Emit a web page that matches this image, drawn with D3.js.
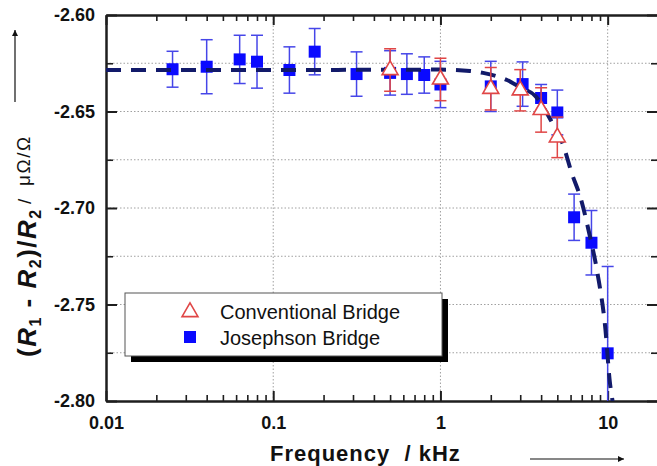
<!DOCTYPE html>
<html>
<head>
<meta charset="utf-8">
<script src="https://cdn.jsdelivr.net/npm/d3@7"></script>
<style>
  html, body { margin: 0; padding: 0; background: #fff; }
  svg { display: block; font-family: "Liberation Sans", Arial, sans-serif; }
</style>
</head>
<body>
<svg id="chart" width="657" height="466"></svg>
<script>
// Josephson bridge measurements (frequency in kHz, relative difference in µΩ/Ω)
const jFreq  = [0.025, 0.04, 0.063, 0.08, 0.125, 0.177, 0.315, 0.5, 0.63, 0.8, 1.0, 2.0, 3.1, 4.0, 5.0, 6.3, 8.0, 10.0];
const jValue = [-2.6281, -2.6268, -2.6230, -2.6242, -2.6285, -2.6190, -2.6306, -2.6300, -2.6306, -2.6311, -2.6360, -2.6370, -2.6358, -2.6430, -2.6505, -2.7048, -2.7180, -2.7753];
const jError = [0.0093, 0.0140, 0.0125, 0.0137, 0.0120, 0.0120, 0.0115, 0.0115, 0.0105, 0.0094, 0.0120, 0.0130, 0.0115, 0.0070, 0.0116, 0.0120, 0.0167, 0.0450];

// Conventional bridge measurements
const cFreq  = [0.5, 1.0, 2.0, 3.0, 4.0, 5.0];
const cValue = [-2.6285, -2.6334, -2.6382, -2.6390, -2.6492, -2.6634];
const cError = [0.0110, 0.0110, 0.0110, 0.0107, 0.0115, 0.0105];

// Model curve (dashed)
const fitFreq  = [0.01, 0.1, 1.0, 1.5, 1.8, 2.5, 3.0, 3.7, 4.6, 5.4, 6.1, 6.9, 7.8, 8.7, 9.7, 10.3, 10.7];
const fitValue = [-2.6285, -2.6285, -2.6283, -2.6290, -2.6300, -2.6337, -2.6375, -2.6420, -2.6550, -2.6670, -2.6820, -2.6950, -2.7140, -2.7340, -2.7630, -2.7900, -2.8000];

// Axis ticks and labels
const xMajorTicks  = [0.01, 0.1, 1, 10];
const xTickLabels  = ["0.01", "0.1", "1", "10"];
const xMinorTicks  = [2,3,4,5,6,7,8,9].flatMap(k => [0.01*k, 0.1*k, 1*k]).concat([20]);
const yMajorTicks  = [-2.60, -2.65, -2.70, -2.75, -2.80];
const yTickLabels  = ["-2.60", "-2.65", "-2.70", "-2.75", "-2.80"];
const yMinorTicks  = [-2.625, -2.675, -2.725, -2.775];
const yGridValues  = [-2.625, -2.65, -2.675, -2.70, -2.725, -2.75, -2.775];
const xGridValues  = [0.1, 1, 10];
const seriesNames  = ["Conventional Bridge", "Josephson Bridge"];

const svg = d3.select("#chart");
const plot = { left: 106, right: 658, top: 15, bottom: 401 };

const x = d3.scaleLog().domain([0.01, 20]).range([plot.left, plot.right]);
const y = d3.scaleLinear().domain([-2.80, -2.60]).range([plot.bottom, plot.top]);

const AXIS = "#1e1e1e";
const BLUE = "#0a0aff";
const BLUE_BAR = "#4646e8";
const RED = "#e04646";
const NAVY = "#121a6a";

const defs = svg.append("defs");
defs.append("clipPath").attr("id", "plotClip")
  .append("rect")
  .attr("x", plot.left).attr("y", plot.top)
  .attr("width", plot.right - plot.left).attr("height", plot.bottom - plot.top);

// Dotted grid
const grid = svg.append("g").attr("stroke", "#a0a0a0").attr("stroke-width", 1)
  .attr("stroke-dasharray", "1.5,2");
grid.selectAll(".gy").data(yGridValues).join("line")
  .attr("x1", plot.left).attr("x2", plot.right)
  .attr("y1", d => y(d)).attr("y2", d => y(d));
grid.selectAll(".gx").data(xGridValues).join("line")
  .attr("y1", plot.top).attr("y2", plot.bottom)
  .attr("x1", d => x(d)).attr("x2", d => x(d));

// Axes with inward ticks
function styleAxis(g, width) {
  g.select(".domain").attr("stroke", AXIS).attr("stroke-width", 2);
  g.selectAll(".tick line").attr("stroke", AXIS).attr("stroke-width", width);
}
const fmtX = d => xTickLabels[xMajorTicks.indexOf(d)];
const fmtY = d => yTickLabels[yMajorTicks.findIndex(v => Math.abs(v - d) < 1e-9)];

// bottom
svg.append("g").attr("transform", `translate(0,${plot.bottom})`)
  .call(d3.axisBottom(x).tickValues(xMinorTicks).tickSize(-6).tickSizeOuter(0).tickFormat(""))
  .call(g => styleAxis(g, 1.6));
const xAxisG = svg.append("g").attr("transform", `translate(0,${plot.bottom})`)
  .call(d3.axisBottom(x).tickValues(xMajorTicks).tickSize(-10).tickSizeOuter(0).tickPadding(15).tickFormat(fmtX))
  .call(g => styleAxis(g, 2));
xAxisG.selectAll("text").attr("font-size", 18).attr("font-weight", "bold").attr("fill", "#111");

// top
svg.append("g").attr("transform", `translate(0,${plot.top})`)
  .call(d3.axisTop(x).tickValues(xMinorTicks).tickSize(-6).tickSizeOuter(0).tickFormat(""))
  .call(g => styleAxis(g, 1.6));
svg.append("g").attr("transform", `translate(0,${plot.top})`)
  .call(d3.axisTop(x).tickValues(xMajorTicks).tickSize(-10).tickSizeOuter(0).tickFormat(""))
  .call(g => styleAxis(g, 2));

// left
svg.append("g").attr("transform", `translate(${plot.left},0)`)
  .call(d3.axisLeft(y).tickValues(yMinorTicks).tickSize(-7).tickSizeOuter(0).tickFormat(""))
  .call(g => styleAxis(g, 1.6));
const yAxisG = svg.append("g").attr("transform", `translate(${plot.left},0)`)
  .call(d3.axisLeft(y).tickValues(yMajorTicks).tickSize(-11).tickSizeOuter(0).tickPadding(11).tickFormat(fmtY))
  .call(g => styleAxis(g, 2));
yAxisG.selectAll("text").attr("font-size", 18).attr("font-weight", "bold").attr("fill", "#111");

// right
svg.append("g").attr("transform", `translate(${plot.right},0)`)
  .call(d3.axisRight(y).tickValues(yMinorTicks).tickSize(-7).tickSizeOuter(0).tickFormat(""))
  .call(g => styleAxis(g, 1.6));
svg.append("g").attr("transform", `translate(${plot.right},0)`)
  .call(d3.axisRight(y).tickValues(yMajorTicks).tickSize(-11).tickSizeOuter(0).tickFormat(""))
  .call(g => styleAxis(g, 2));

const marks = svg.append("g").attr("clip-path", "url(#plotClip)");

// Error bars helper
function errorBars(g, fx, fv, fe, color, cap) {
  const data = fx.map((f, i) => ({ f, v: fv[i], e: fe[i] }));
  const eb = g.append("g").attr("stroke", color).attr("stroke-width", 1.5).attr("fill", "none");
  eb.selectAll(".v").data(data).join("line")
    .attr("x1", d => x(d.f)).attr("x2", d => x(d.f))
    .attr("y1", d => y(d.v - d.e)).attr("y2", d => y(d.v + d.e));
  eb.selectAll(".t").data(data).join("line")
    .attr("x1", d => x(d.f) - cap).attr("x2", d => x(d.f) + cap)
    .attr("y1", d => y(d.v + d.e)).attr("y2", d => y(d.v + d.e));
  eb.selectAll(".b").data(data).join("line")
    .attr("x1", d => x(d.f) - cap).attr("x2", d => x(d.f) + cap)
    .attr("y1", d => y(d.v - d.e)).attr("y2", d => y(d.v - d.e));
  return data;
}

// Josephson bridge
const jData = errorBars(marks, jFreq, jValue, jError, BLUE_BAR, 6);
marks.append("g").selectAll("path").data(jData).join("path")
  .attr("transform", d => `translate(${x(d.f)},${y(d.v)})`)
  .attr("d", d3.symbol(d3.symbolSquare, 144))
  .attr("fill", BLUE);

// Model curve
const fitData = fitFreq.map((f, i) => ({ f, v: fitValue[i] }));
marks.append("path").datum(fitData)
  .attr("d", d3.line().x(d => x(d.f)).y(d => y(d.v)).curve(d3.curveMonotoneX))
  .attr("fill", "none").attr("stroke", NAVY).attr("stroke-width", 4)
  .attr("stroke-dasharray", "15,10");

// Conventional bridge
const cData = errorBars(marks, cFreq, cValue, cError, RED, 6);
marks.append("g").selectAll("path").data(cData).join("path")
  .attr("transform", d => `translate(${x(d.f)},${y(d.v)})`)
  .attr("d", d3.symbol(d3.symbolTriangle, 110))
  .attr("fill", "#fff").attr("stroke", RED).attr("stroke-width", 1.6);

// Legend with drop shadow
const lg = svg.append("g");
lg.append("rect").attr("x", 131).attr("y", 299).attr("width", 317).attr("height", 63).attr("fill", "#000");
lg.append("rect").attr("x", 125).attr("y", 293).attr("width", 317).attr("height", 63)
  .attr("fill", "#fff").attr("stroke", "#555").attr("stroke-width", 1);
lg.append("path").attr("transform", "translate(190,312)")
  .attr("d", d3.symbol(d3.symbolTriangle, 110))
  .attr("fill", "#fff").attr("stroke", RED).attr("stroke-width", 1.6);
lg.append("path").attr("transform", "translate(190,337)")
  .attr("d", d3.symbol(d3.symbolSquare, 144)).attr("fill", BLUE);
lg.selectAll("text").data(seriesNames).join("text")
  .attr("x", 220).attr("y", (d, i) => 319 + i * 26)
  .attr("font-size", 20).attr("fill", "#111").text(d => d);

// X axis title and arrow
svg.append("text").attr("x", 270).attr("y", 461)
  .attr("font-size", 22).attr("font-weight", "bold").attr("fill", "#111")
  .attr("letter-spacing", 1)
  .attr("xml:space", "preserve")
  .text("Frequency  / kHz");

defs.append("marker").attr("id", "arrowHead").attr("viewBox", "0 0 10 10")
  .attr("refX", 10).attr("refY", 5).attr("markerWidth", 9).attr("markerHeight", 6)
  .attr("markerUnits", "userSpaceOnUse").attr("orient", "auto")
  .append("path").attr("d", "M0,0 L10,5 L0,10 Z").attr("fill", "#111");

svg.append("line").attr("x1", 530).attr("x2", 624).attr("y1", 459).attr("y2", 459)
  .attr("stroke", "#111").attr("stroke-width", 1.2).attr("marker-end", "url(#arrowHead)");
svg.append("line").attr("x1", 15).attr("x2", 15).attr("y1", 102).attr("y2", 30)
  .attr("stroke", "#111").attr("stroke-width", 1.2).attr("marker-end", "url(#arrowHead)");

// Y axis title: quantity (bold, italic R) then unit
const yt = svg.append("text")
  .attr("transform", "translate(36,357) rotate(-90)")
  .attr("fill", "#111").attr("letter-spacing", 1.5).attr("xml:space", "preserve");
const b = { "font-size": 26, "font-weight": "bold" };
function tspan(txt, attrs) {
  const t = yt.append("tspan").text(txt);
  Object.entries(attrs).forEach(([k, v]) => t.attr(k, v));
  return t;
}
tspan("(", b);
tspan("R", { ...b, "font-style": "italic" });
tspan("1", { "font-size": 16, "font-weight": "bold", dy: 5 });
tspan(" - ", { ...b, dy: -5 });
tspan("R", { ...b, "font-style": "italic" });
tspan("2", { "font-size": 16, "font-weight": "bold", dy: 5 });
tspan(")/", { ...b, dy: -5 });
tspan("R", { ...b, "font-style": "italic" });
tspan("2", { "font-size": 16, "font-weight": "bold", dy: 5 });

svg.append("text").attr("transform", "translate(31,204) rotate(-90)")
  .attr("font-size", 19).attr("fill", "#111").text("/");
svg.append("text").attr("transform", "translate(30,186) rotate(-90)")
  .attr("font-size", 19).attr("letter-spacing", 1.5).attr("fill", "#111")
  .text("\u03bc\u03a9/\u03a9");
</script>
</body>
</html>
